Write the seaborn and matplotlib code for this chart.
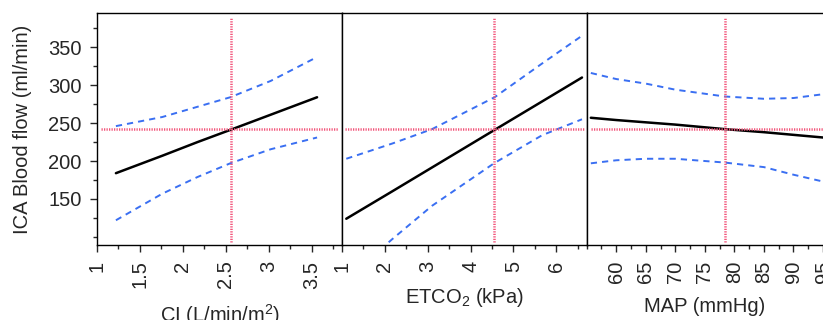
import numpy as np
import pandas as pd
import matplotlib
matplotlib.use('Agg')
import matplotlib.pyplot as plt
import seaborn as sns
from matplotlib.ticker import MultipleLocator, FuncFormatter

# Werte
ci_x = [1.22, 1.76, 2.17, 2.55, 3.02, 3.56]
ci_fit = [184, 207, 225, 241, 261, 284]
ci_upper = [246, 258, 271.5, 284, 305.5, 337]
ci_lower = [122, 157, 179, 197, 215.5, 231]

et_x = [1.10, 2.17, 3.1, 4.56, 5.67, 6.6]
et_fit = [124, 160, 191.5, 241, 278.5, 310]
et_upper = [203, 223, 242, 284, 328.5, 365]
et_lower = [44, 97, 141, 197.5, 234, 255]

map_x = [55.7, 60, 65, 70, 78.4, 85, 90, 95]
map_fit = [257, 254, 251, 248, 242, 238, 234.5, 231]
map_upper = [316, 308, 302, 294, 285, 282, 283, 288]
map_lower = [197, 201, 203, 203, 198, 192, 182, 173]

ref_flow = 242
ref_x = [2.56, 4.54, 78.4]

xlabels = ['CI (L/min/m$^2$)', 'ETCO$_2$ (kPa)', 'MAP (mmHg)']

sns.set_style('ticks')
plt.rcParams['font.family'] = ['Liberation Sans', 'DejaVu Sans']
plt.rcParams['mathtext.fontset'] = 'custom'
plt.rcParams['mathtext.rm'] = 'Liberation Sans'
plt.rcParams['mathtext.it'] = 'Liberation Sans'
plt.rcParams['axes.edgecolor'] = 'black'
plt.rcParams['axes.linewidth'] = 1.0

fs = 14.5

fig = plt.figure(figsize=(8.23, 3.2), dpi=100)
bottom, height = 0.2334, 0.726
ax1 = fig.add_axes([97 / 823, bottom, 245 / 823, height])
ax2 = fig.add_axes([342 / 823, bottom, 244.7 / 823, height], sharey=ax1)
ax3 = fig.add_axes([586.7 / 823, bottom, 236.3 / 823, height], sharey=ax1)

panels = [
    (ax1, ci_x, ci_fit, ci_upper, ci_lower, (1, 3.85), 0.5, 0.25, (0.015, 0.985)),
    (ax2, et_x, et_fit, et_upper, et_lower, (1, 6.71), 1, 0.5, (0.012, 0.987)),
    (ax3, map_x, map_fit, map_upper, map_lower, (55, 95), 5, 2.5, (0.018, 1.0)),
]

blue = '#3a6ff2'
red = '#f2557a'

for i, (ax, x, fit, up, lo, xlim, major, minor, hspan) in enumerate(panels):
    sns.lineplot(x=x, y=fit, ax=ax, color='black', linewidth=1.8)
    sns.lineplot(x=x, y=up, ax=ax, color=blue, linewidth=1.4,
                 linestyle=(0, (3.2, 2.6)))
    sns.lineplot(x=x, y=lo, ax=ax, color=blue, linewidth=1.4,
                 linestyle=(0, (3.2, 2.6)))
    ax.axhline(ref_flow, xmin=hspan[0], xmax=hspan[1], color=red,
               linewidth=1.8, linestyle=(0, (0.5, 0.5)))
    ax.plot([ref_x[i], ref_x[i]], [94, 390], color=red,
            linewidth=1.8, linestyle=(0, (0.5, 0.5)))
    ax.set_xlim(*xlim)
    ax.xaxis.set_major_locator(MultipleLocator(major))
    ax.xaxis.set_minor_locator(MultipleLocator(minor))
    ax.xaxis.set_major_formatter(FuncFormatter(lambda v, p: f'{v:g}'))
    ax.set_xlabel(xlabels[i], fontsize=fs, labelpad=10)
    ax.tick_params(axis='x', which='major', rotation=90, length=5, width=1,
                   pad=6, labelsize=fs)
    ax.tick_params(axis='x', which='minor', length=3, width=1)
    for s in ax.spines.values():
        s.set_visible(True)
    if i > 0:
        ax.tick_params(axis='y', which='both', left=False, labelleft=False)
        ax.set_ylabel('')

ax3.set_xticks(np.arange(60, 96, 5))
ax3.spines['right'].set_visible(False)

ax1.set_ylim(89, 395)
ax1.set_yticks([150, 200, 250, 300, 350])
ax1.yaxis.set_minor_locator(MultipleLocator(25))
ax1.tick_params(axis='y', which='major', length=5, width=1, pad=6, labelsize=fs)
ax1.tick_params(axis='y', which='minor', length=3, width=1)
ax1.set_ylabel('ICA Blood flow (ml/min)', fontsize=fs, labelpad=12)

plt.savefig('out.png', dpi=100)
plt.close()
